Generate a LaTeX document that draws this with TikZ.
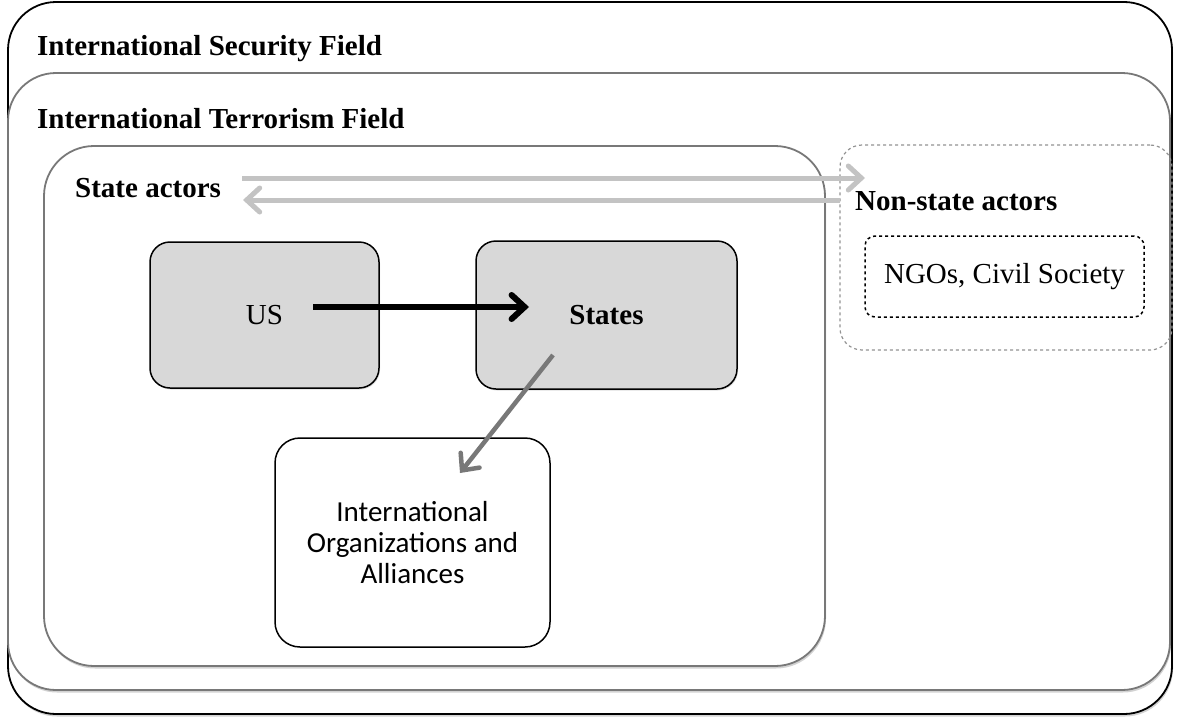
\documentclass[tikz,border=0pt]{standalone}
\usepackage{fontspec}
\setmainfont{Liberation Serif}
\newfontfamily\calibri{Carlito}
\usetikzlibrary{arrows.meta,shadows}
\definecolor{boxgray}{RGB}{216,216,216}
\definecolor{linegray}{RGB}{120,120,120}
\definecolor{arrowgray}{RGB}{195,195,195}
\tikzset{every scope/.style={>={Straight Barb[length=13pt,width=24pt,line cap=round]},line join=round}}
\tikzset{field/.style={draw,fill=white,rounded corners=48pt,line width=1.8pt,inner sep=0pt,
                       drop shadow={opacity=0.35,shadow xshift=1pt,shadow yshift=-2.5pt}},
         actor/.style={draw,rounded corners=20pt,line width=1.5pt,fill=boxgray,inner sep=0pt,
                       minimum width=229pt,minimum height=146pt,font=\fontsize{29}{32}\selectfont,
                       drop shadow={opacity=0.25,shadow xshift=1pt,shadow yshift=-1.5pt}},
         title/.style={anchor=base west,font=\fontsize{29}{32}\selectfont\bfseries,inner sep=0pt}}

\begin{document}
\begin{tikzpicture}[x=1pt,y=-1pt]
      \useasboundingbox (0,0) rectangle (1180,720);
      \node[field,draw=black,minimum width=1164pt,minimum height=712pt] (sec) at (590,358) {};
      \node[field,draw=linegray,minimum width=1162pt,minimum height=617pt] (ter) at (589,381.5) {};
      \node[field,draw=linegray,rounded corners=50pt,minimum width=781pt,minimum height=520pt] (sta) at (434.5,406) {};
      \node[draw=linegray!80,dashed,rounded corners=22pt,line width=1.2pt,minimum width=332pt,minimum height=205pt] (non) at (1006,247.5) {};
      \node[title] (sectxt) at (37,55) {International Security Field};
      \node[title] (tertxt) at (37,128) {International Terrorism Field};
      \node[title] (statxt) at (75,197) {State actors};
      \node[title] (nontxt) at (855,210) {Non-state actors};
      \node[draw,dashed,rounded corners=10pt,line width=1.5pt,minimum width=279pt,minimum height=81pt,
            font=\fontsize{29}{32}\selectfont] (ngo) at (1004.5,276.5) {NGOs, Civil Society};
      \node[actor] (us) at (264.5,315) {US};
      \node[actor,minimum width=261pt,minimum height=148pt,font=\fontsize{29}{32}\selectfont\bfseries] (states) at (606.5,315) {States};
      \node[draw,rounded corners=25pt,line width=1.5pt,fill=white,minimum width=275pt,minimum height=209pt,
            align=center,font=\calibri\fontsize{29}{31}\selectfont] (io) at (412.5,542.5)
            {International\\ Organizations and\\ Alliances};
      \coordinate (a1) at (242,178); \coordinate (b1) at (865,178);
      \coordinate (a2) at (840,200); \coordinate (b2) at (243,200);
      \coordinate (usout) at (313,307); \coordinate (stin) at (529,307);
      \coordinate (stout) at (553,355); \coordinate (ioin) at (460,473);
      \draw[->,arrowgray,line width=5pt] (a1) -- (b1);
      \draw[->,arrowgray,line width=5pt] (a2) -- (b2);
      \draw[->,black,line width=6pt] (usout) -- (stin);
      \draw[->,linegray,line width=4.5pt] (stout) -- (ioin);
    \end{tikzpicture}
\end{document}
